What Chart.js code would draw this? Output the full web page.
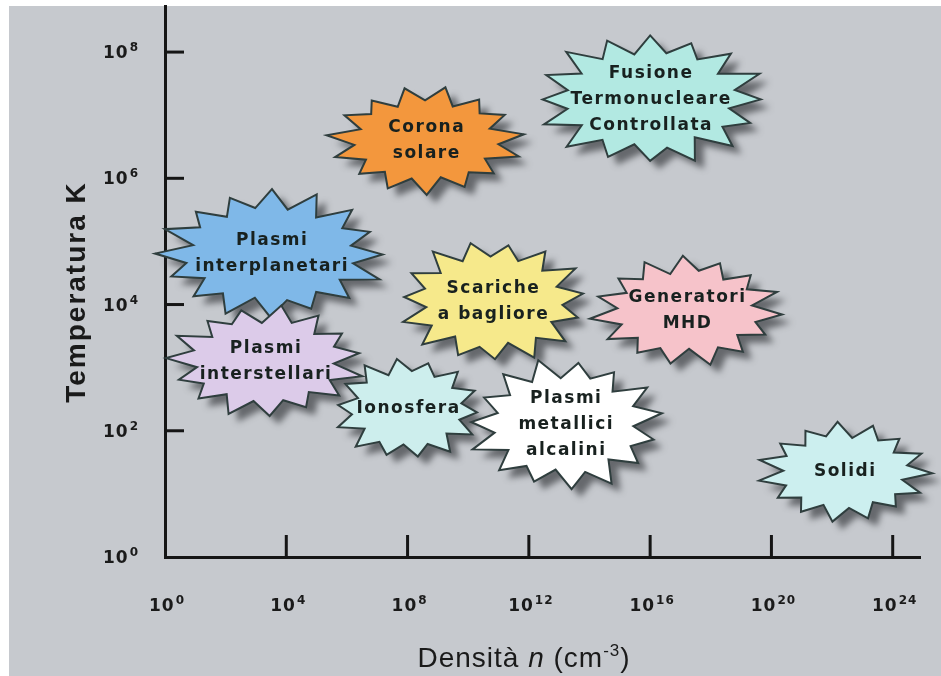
<!DOCTYPE html>
<html>
<head>
<meta charset="utf-8">
<script src="https://cdn.jsdelivr.net/npm/chart.js@4.4.1/dist/chart.umd.min.js"></script>
<style>
  html, body { margin: 0; padding: 0; background: #fff; }
  #wrap { width: 941px; height: 676px; }
</style>
</head>
<body>
<div id="wrap"><canvas id="plasmaChart" width="941" height="676"></canvas></div>
<script>
// Dati: esponenti (log10) di densità e temperatura per ogni tipo di plasma
const phenomena = [
  ['Fusione', 'Termonucleare', 'Controllata'],
  ['Corona', 'solare'],
  ['Plasmi', 'interplanetari'],
  ['Scariche', 'a bagliore'],
  ['Generatori', 'MHD'],
  ['Plasmi', 'interstellari'],
  ['Ionosfera'],
  ['Plasmi', 'metallici', 'alcalini'],
  ['Solidi']
];
const densityExp = [16.0, 8.6, 3.5, 10.8, 17.2, 3.3, 8.0, 13.2, 22.4];
const tempExp    = [7.25, 6.6, 4.8, 4.05, 3.9, 3.1, 2.35, 2.1, 1.35];

const xTickExp = [0, 4, 8, 12, 16, 20, 24];
const yTickExp = [0, 2, 4, 6, 8];

// Stile delle stelle (colore, raggi in px)
const starFill = ['#b2e9e2', '#f3973d', '#7fb8e8', '#f6e98b', '#f6c3ca', '#dccbe9', '#cdeeed', '#ffffff', '#ccefef'];
const starRx   = [113, 95, 112, 93, 93, 96, 73, 95, 84];
const starRy   = [64, 52, 62, 60, 53, 54, 50, 64, 48];
const starSpikes = [16, 15, 16, 15, 15, 15, 14, 15, 15];

const boldFont = '"DejaVu Sans", "Liberation Sans", sans-serif';

// Sfondo grigio con bordo bianco
const backgroundPlugin = {
  id: 'background',
  beforeDraw(chart) {
    const ctx = chart.ctx;
    ctx.save();
    ctx.fillStyle = '#ffffff';
    ctx.fillRect(0, 0, chart.width, chart.height);
    ctx.fillStyle = '#c6c9ce';
    ctx.fillRect(9, 6, chart.width - 9, chart.height - 6);
    ctx.restore();
  }
};

// Tacche interne, etichette 10^n e titoli degli assi
const axesPlugin = {
  id: 'axesDecor',
  afterDraw(chart) {
    const ctx = chart.ctx;
    const xs = chart.scales.x;
    const ys = chart.scales.y;
    const area = chart.chartArea;
    ctx.save();
    ctx.strokeStyle = '#151515';
    ctx.lineWidth = 3;
    xTickExp.forEach(e => {
      if (e === 0) return;
      const px = xs.getPixelForValue(e);
      ctx.beginPath();
      ctx.moveTo(px, area.bottom);
      ctx.lineTo(px, area.bottom - 22);
      ctx.stroke();
    });
    yTickExp.forEach(e => {
      if (e === 0) return;
      const py = ys.getPixelForValue(e);
      ctx.beginPath();
      ctx.moveTo(area.left, py);
      ctx.lineTo(area.left + 19, py);
      ctx.stroke();
    });

    const drawPow = (exp, x, y, align) => {
      ctx.letterSpacing = '1px';
      ctx.font = 'bold 17px ' + boldFont;
      const base = '10';
      const wBase = ctx.measureText(base).width;
      ctx.font = 'bold 12px ' + boldFont;
      const wExp = ctx.measureText(String(exp)).width;
      const total = wBase + 1 + wExp;
      let left = x;
      if (align === 'center') left = x - total / 2;
      if (align === 'right') left = x - total;
      ctx.fillStyle = '#1a1a1a';
      ctx.textAlign = 'left';
      ctx.textBaseline = 'alphabetic';
      ctx.font = 'bold 17px ' + boldFont;
      ctx.fillText(base, left, y);
      ctx.font = 'bold 12px ' + boldFont;
      ctx.fillText(String(exp), left + wBase + 1, y - 7);
    };
    xTickExp.forEach(e => drawPow(e, xs.getPixelForValue(e) + 2, 611, 'center'));
    yTickExp.forEach(e => drawPow(e, 139, ys.getPixelForValue(e) + 6, 'right'));
    ctx.letterSpacing = '0px';

    // titolo asse y
    ctx.save();
    ctx.translate(77, 292);
    ctx.rotate(-Math.PI / 2);
    ctx.font = 'bold 28px "Liberation Sans", Arial, sans-serif';
    ctx.letterSpacing = '2px';
    ctx.fillStyle = '#1a1a1a';
    ctx.textAlign = 'center';
    ctx.textBaseline = 'middle';
    ctx.fillText('Temperatura K', 0, 0);
    ctx.restore();

    // titolo asse x: Densità n (cm-3)
    const parts = [
      { t: 'Densità ', f: '28px "Liberation Sans", Arial, sans-serif', dy: 0 },
      { t: 'n', f: 'italic 28px "Liberation Sans", Arial, sans-serif', dy: 0 },
      { t: ' (cm', f: '28px "Liberation Sans", Arial, sans-serif', dy: 0 },
      { t: '-3', f: '17px "Liberation Sans", Arial, sans-serif', dy: -11 },
      { t: ')', f: '28px "Liberation Sans", Arial, sans-serif', dy: 0 }
    ];
    ctx.letterSpacing = '1px';
    let totalW = 0;
    parts.forEach(p => { ctx.font = p.f; p.w = ctx.measureText(p.t).width; totalW += p.w; });
    let cx = 524 - totalW / 2;
    ctx.fillStyle = '#1a1a1a';
    ctx.textAlign = 'left';
    ctx.textBaseline = 'alphabetic';
    parts.forEach(p => {
      ctx.font = p.f;
      ctx.fillText(p.t, cx, 667 + p.dy);
      cx += p.w;
    });
    ctx.restore();
  }
};

// Stelle con ombra e testo, posizionate tramite le scale del grafico
const starPlugin = {
  id: 'stars',
  afterDatasetsDraw(chart) {
    const ctx = chart.ctx;
    const meta = chart.getDatasetMeta(0);
    meta.data.forEach((pt, i) => {
      const cx = pt.x, cy = pt.y;
      const rx = starRx[i], ry = starRy[i], n = starSpikes[i];
      const path = new Path2D();
      for (let k = 0; k < n * 2; k++) {
        const a = -Math.PI / 2 + (k * Math.PI) / n + i * 0.2;
        const wob = 1 + 0.05 * Math.sin(k * 2.3 + i);
        const r = k % 2 === 0 ? wob : 0.74 + 0.03 * Math.cos(k * 1.7 + i);
        const x = cx + Math.cos(a) * rx * r;
        const y = cy + Math.sin(a) * ry * r;
        if (k === 0) path.moveTo(x, y); else path.lineTo(x, y);
      }
      path.closePath();
      ctx.save();
      ctx.shadowColor = 'rgba(70,72,76,0.75)';
      ctx.shadowBlur = 6;
      ctx.shadowOffsetX = 9;
      ctx.shadowOffsetY = 8;
      ctx.fillStyle = starFill[i];
      ctx.fill(path);
      ctx.restore();
      ctx.save();
      ctx.strokeStyle = '#2f3e3e';
      ctx.lineWidth = 2;
      ctx.lineJoin = 'miter';
      ctx.stroke(path);
      ctx.font = 'bold 17px ' + boldFont;
      ctx.letterSpacing = '1.5px';
      ctx.fillStyle = '#18211f';
      ctx.textAlign = 'center';
      ctx.textBaseline = 'middle';
      const lines = phenomena[i];
      const lh = 26;
      lines.forEach((line, j) => {
        const y = cy + (j - (lines.length - 1) / 2) * lh;
        ctx.fillText(line, cx + 1, y);
      });
      ctx.restore();
    });
  }
};

const points = densityExp.map((d, i) => ({ x: d, y: tempExp[i] }));

new Chart(document.getElementById('plasmaChart'), {
  type: 'scatter',
  data: {
    datasets: [{
      label: 'Plasmi',
      data: points,
      pointRadius: 0,
      pointHoverRadius: 0
    }]
  },
  options: {
    responsive: false,
    animation: false,
    layout: { padding: { left: 0, top: 6, right: 21, bottom: 0 } },
    plugins: {
      legend: { display: false },
      tooltip: { enabled: false }
    },
    scales: {
      x: {
        type: 'linear',
        min: 0,
        max: 24.9,
        grid: { display: false, drawTicks: false },
        border: { display: true, color: '#151515', width: 3 },
        ticks: { display: false },
        afterFit(scale) { scale.height = 119; }
      },
      y: {
        type: 'linear',
        min: 0,
        max: 8.73,
        grid: { display: false, drawTicks: false },
        border: { display: true, color: '#151515', width: 3 },
        ticks: { display: false },
        afterFit(scale) { scale.width = 165; }
      }
    }
  },
  plugins: [backgroundPlugin, starPlugin, axesPlugin]
});
</script>
</body>
</html>
